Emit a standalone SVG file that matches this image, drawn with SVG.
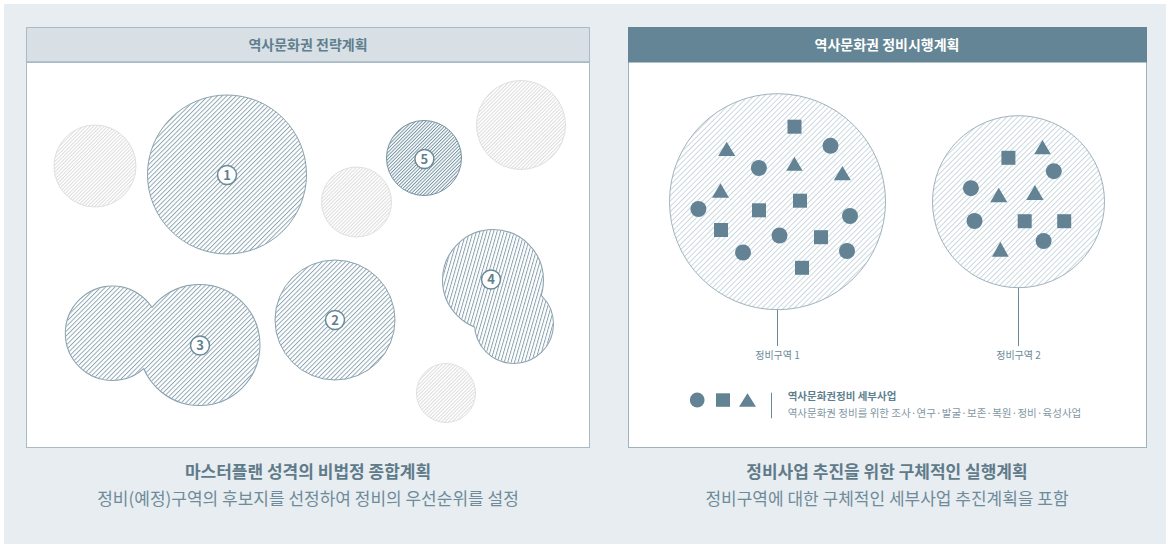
<svg xmlns="http://www.w3.org/2000/svg" width="1170" height="547" viewBox="0 0 1170 547">
<style>
.t{font-family:"Noto Sans CJK KR","Noto Sans",sans-serif}
.hd{font-size:14px;font-weight:700;text-anchor:middle}
.cap1{font-size:17px;font-weight:700;fill:#5f7b89;text-anchor:middle}
.cap2{font-size:17px;fill:#6f8b99;text-anchor:middle}
.num{font-size:13px;font-weight:700;fill:#5f7f8f;text-anchor:middle}
.badge{fill:#fff;stroke:#6a8a99;stroke-width:1.5}
.lbl{font-size:10px;fill:#6a8a99;text-anchor:middle}
.shp{fill:#638395}
.ol{fill:none;stroke:#8aa3b0;stroke-width:2}
.wf{fill:#fff;stroke:none}
</style>
<defs>
<pattern id="hA" patternUnits="userSpaceOnUse" width="3.3" height="10" patternTransform="rotate(45)"><line x1="0.5" y1="0" x2="0.5" y2="10" stroke="#86a0ad" stroke-width="0.9"/></pattern>
<pattern id="h4" patternUnits="userSpaceOnUse" width="3.3" height="10" patternTransform="rotate(16)"><line x1="0.5" y1="0" x2="0.5" y2="10" stroke="#7f9aa8" stroke-width="0.9"/></pattern>
<pattern id="h5" patternUnits="userSpaceOnUse" width="2.4" height="10" patternTransform="rotate(45)"><line x1="0.5" y1="0" x2="0.5" y2="10" stroke="#6a8a99" stroke-width="0.9"/></pattern>
<pattern id="hG" patternUnits="userSpaceOnUse" width="2.5" height="10" patternTransform="rotate(45)"><line x1="0.5" y1="0" x2="0.5" y2="10" stroke="#d9d9d9" stroke-width="0.9"/></pattern>
<pattern id="hR" patternUnits="userSpaceOnUse" width="3.8" height="10" patternTransform="rotate(45)"><line x1="0.5" y1="0" x2="0.5" y2="10" stroke="#c6d2d9" stroke-width="0.9"/></pattern>
<clipPath id="c3"><circle cx="112.5" cy="333.3" r="46.7"/><circle cx="199.5" cy="345" r="60"/></clipPath>
<clipPath id="c4"><circle cx="493" cy="280" r="50"/><circle cx="514" cy="324" r="39"/></clipPath>
</defs>
<rect x="4" y="4" width="1162" height="540" fill="#e8edf1"/>

<g id="panel-left">
<rect x="26.5" y="27.5" width="563" height="420" fill="#fff" stroke="#a9bcc6"/>
<rect x="26.5" y="27.5" width="563" height="35" fill="#d8e0e6" stroke="#a9bcc6"/>
<line x1="27" y1="62" x2="589" y2="62" stroke="#a7bac4" stroke-width="1.5"/>
<text class="t hd" x="308" y="50" fill="#5f7f8f">역사문화권 전략계획</text>
</g>

<g id="gray-circles">
<circle cx="95" cy="166" r="41" fill="url(#hG)" stroke="#e0e0e0"/>
<circle cx="356.5" cy="202" r="35" fill="url(#hG)" stroke="#e0e0e0"/>
<circle cx="521" cy="125" r="44.5" fill="url(#hG)" stroke="#e0e0e0"/>
<circle cx="446" cy="393" r="29.5" fill="url(#hG)" stroke="#e0e0e0"/>
</g>

<g id="zone-1">
<circle cx="227" cy="174.5" r="79.5" fill="url(#hA)" stroke="#8aa3b0"/>
<circle class="badge" cx="227" cy="175" r="9.5"/>
<text class="t num" x="227" y="179.6">1</text>
</g>

<g id="zone-2">
<circle cx="335" cy="320" r="60" fill="url(#hA)" stroke="#8aa3b0"/>
<circle class="badge" cx="335" cy="320" r="9.5"/>
<text class="t num" x="335" y="324.6">2</text>
</g>

<g id="zone-3">
<circle class="ol" cx="112.5" cy="333.3" r="46.7"/>
<circle class="ol" cx="199.5" cy="345" r="60"/>
<rect class="wf" x="60" y="280" width="205" height="130" clip-path="url(#c3)"/>
<rect fill="url(#hA)" x="60" y="280" width="205" height="130" clip-path="url(#c3)"/>
<circle class="badge" cx="200" cy="345.5" r="9.5"/>
<text class="t num" x="200" y="350.1">3</text>
</g>

<g id="zone-4">
<circle class="ol" cx="493" cy="280" r="50"/>
<circle class="ol" cx="514" cy="324" r="39"/>
<rect class="wf" x="440" y="226" width="118" height="142" clip-path="url(#c4)"/>
<rect fill="url(#h4)" x="440" y="226" width="118" height="142" clip-path="url(#c4)"/>
<circle class="badge" cx="491" cy="279.5" r="9.5"/>
<text class="t num" x="491" y="284.1">4</text>
</g>

<g id="zone-5">
<circle cx="424" cy="158" r="37.5" fill="url(#h5)" stroke="#7593a1"/>
<circle class="badge" cx="424.4" cy="159" r="9.5"/>
<text class="t num" x="424.4" y="163.6">5</text>
</g>

<g id="caption-left">
<text class="t cap1" x="308" y="478">마스터플랜 성격의 비법정 종합계획</text>
<text class="t cap2" x="308" y="504.5">정비(예정)구역의 후보지를 선정하여 정비의 우선순위를 설정</text>
</g>

<g id="panel-right">
<rect x="628.5" y="27.5" width="518" height="420" fill="#fff" stroke="#a0b3bd"/>
<rect x="628" y="27" width="519" height="35.5" fill="#638595"/>
<text class="t hd" x="887" y="50" fill="#fff">역사문화권 정비시행계획</text>
</g>

<g id="connectors" stroke="#6a8a99" stroke-width="1" fill="none">
<line x1="777.5" y1="309" x2="777.5" y2="346"/>
<line x1="1018.5" y1="287" x2="1018.5" y2="346"/>
</g>

<g id="district-1">
<circle cx="777.5" cy="201.7" r="108" fill="url(#hR)" stroke="#9fb3be"/>
<g class="shp">
<rect x="787.5" y="119.7" width="14" height="14"/>
<rect x="793" y="193.7" width="14" height="14"/>
<rect x="752" y="203.3" width="14" height="14"/>
<rect x="714" y="223" width="14" height="14"/>
<rect x="814" y="230.2" width="14" height="14"/>
<rect x="795" y="260.8" width="14" height="14"/>
<circle cx="830.5" cy="145.8" r="8"/>
<circle cx="758.9" cy="168" r="8"/>
<circle cx="698.4" cy="209" r="8"/>
<circle cx="850" cy="216" r="8"/>
<circle cx="779.5" cy="235.5" r="8"/>
<circle cx="743" cy="252.5" r="8"/>
<circle cx="847" cy="251" r="8"/>
<polygon points="726.7,141.7 735.3,156 718.2,156"/>
<polygon points="794.4,156.7 802.6,170.7 786.2,170.7"/>
<polygon points="842.4,166 850.9,180.3 833.8,180.3"/>
<polygon points="720.5,183.3 729,197.7 712,197.7"/>
</g>
<text class="t lbl" x="777.5" y="358.8">정비구역 1</text>
</g>

<g id="district-2">
<circle cx="1018.5" cy="201.7" r="86" fill="url(#hR)" stroke="#9fb3be"/>
<g class="shp">
<rect x="1001.4" y="150.8" width="14" height="14"/>
<rect x="1017.7" y="214.2" width="14" height="14"/>
<rect x="1057.2" y="214.2" width="14" height="14"/>
<polygon points="1042.5,140 1050.9,154.3 1034.2,154.3"/>
<polygon points="998.7,187.7 1007.3,202.3 990.2,202.3"/>
<polygon points="1034.9,185 1043.6,200 1026.2,200"/>
<polygon points="1000.4,241.7 1008.7,256.7 992,256.7"/>
<circle cx="1053.8" cy="171.2" r="8"/>
<circle cx="970.9" cy="188.2" r="8"/>
<circle cx="974.5" cy="221" r="8"/>
<circle cx="1043.6" cy="241" r="8"/>
</g>
<text class="t lbl" x="1018.5" y="358.8">정비구역 2</text>
</g>

<g id="legend">
<circle class="shp" cx="697.2" cy="400" r="7.4"/>
<rect class="shp" x="716" y="393.3" width="14" height="13.5"/>
<polygon class="shp" points="747.5,393.3 756,406.8 739,406.8"/>
<line x1="771.5" y1="392.7" x2="771.5" y2="418.3" stroke="#6a8a99" stroke-width="1"/>
<text class="t" x="787.7" y="400" font-size="10.5" font-weight="700" fill="#5f7f8f">역사문화권정비 세부사업</text>
<text class="t" x="787.7" y="416.8" font-size="10.5" fill="#7f98a5">역사문화권 정비를 위한 조사·연구·발굴·보존·복원·정비·육성사업</text>
</g>

<g id="caption-right">
<text class="t cap1" x="887" y="478">정비사업 추진을 위한 구체적인 실행계획</text>
<text class="t cap2" x="887" y="504.5">정비구역에 대한 구체적인 세부사업 추진계획을 포함</text>
</g>
</svg>
